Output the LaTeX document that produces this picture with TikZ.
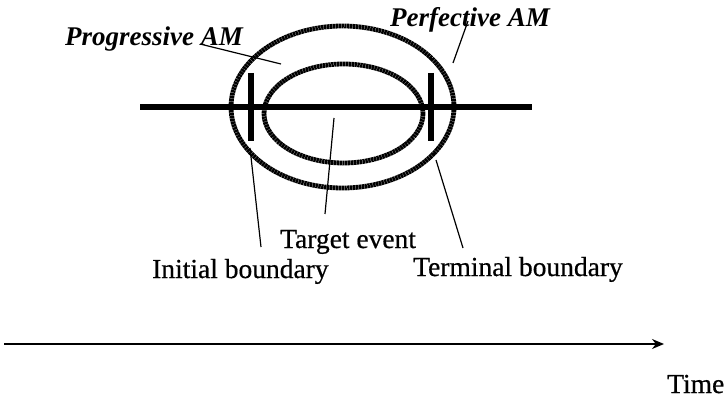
\documentclass[tikz,border=0pt]{standalone}
\usepackage{fontspec}
\setmainfont{Liberation Serif}
\newfontfamily\heavyfont[FakeBold=0.6]{Liberation Serif}
\usetikzlibrary{arrows.meta, positioning, calc}

\tikzset{
  lbl/.style={font=\heavyfont\fontsize{27.5}{30}\selectfont, anchor=base west, inner sep=0pt},
  amlbl/.style={lbl, font=\fontsize{27}{30}\selectfont\bfseries\itshape},
  ring/.style={line width=4.8pt, dash pattern=on 2.4pt off 0.5pt},
  bar/.style={line width=6pt},
  leader/.style={line width=1.2pt}
}

\begin{document}
\begin{tikzpicture}[>=Stealth, x=1pt, y=-1pt]
  \useasboundingbox (0,0) rectangle (727,403);
  % event line and boundaries
  \draw [bar] (140,107) -- (532,107);
  \draw [bar] (251,73) -- (251,141);
  \draw [bar] (431,73) -- (431,141);
  % ellipses
  \draw [ring] (342.5,107) ellipse [x radius=111.5, y radius=81];
  \draw [ring] (343.5,113.5) ellipse [x radius=79.5, y radius=49.5];
  % labels
  \node [amlbl] (prog) at (65,46) {Progressive AM};
  \node [amlbl] (perf) at (390,27) {Perfective AM};
  \node [lbl] (target) at (280,248) {Target event};
  \node [lbl] (init) at (152,278) {Initial boundary};
  \node [lbl] (term) at (413,276) {Terminal boundary};
  \node [lbl] (time) at (667,393) {Time};
  % leader ends
  \coordinate (progA) at (200,44);
  \coordinate (progB) at (281,64);
  \coordinate (perfA) at (468,21);
  \coordinate (perfB) at (453,63);
  \coordinate (initA) at (250,148);
  \coordinate (initB) at (261,247);
  \coordinate (tgtA) at (334,118);
  \coordinate (tgtB) at (325,214);
  \coordinate (termA) at (436,160);
  \coordinate (termB) at (463,248);
  \draw [leader] (progA) -- (progB);
  \draw [leader] (perfA) -- (perfB);
  \draw [leader] (initA) -- (initB);
  \draw [leader] (tgtA) -- (tgtB);
  \draw [leader] (termA) -- (termB);
  % time axis
  \coordinate (t0) at (4,344);
  \coordinate (t1) at (664,344);
  \draw [->, line width=1.3pt, arrows={-Stealth[length=12pt, width=10pt]}] (t0) -- (t1);
\end{tikzpicture}
\end{document}
